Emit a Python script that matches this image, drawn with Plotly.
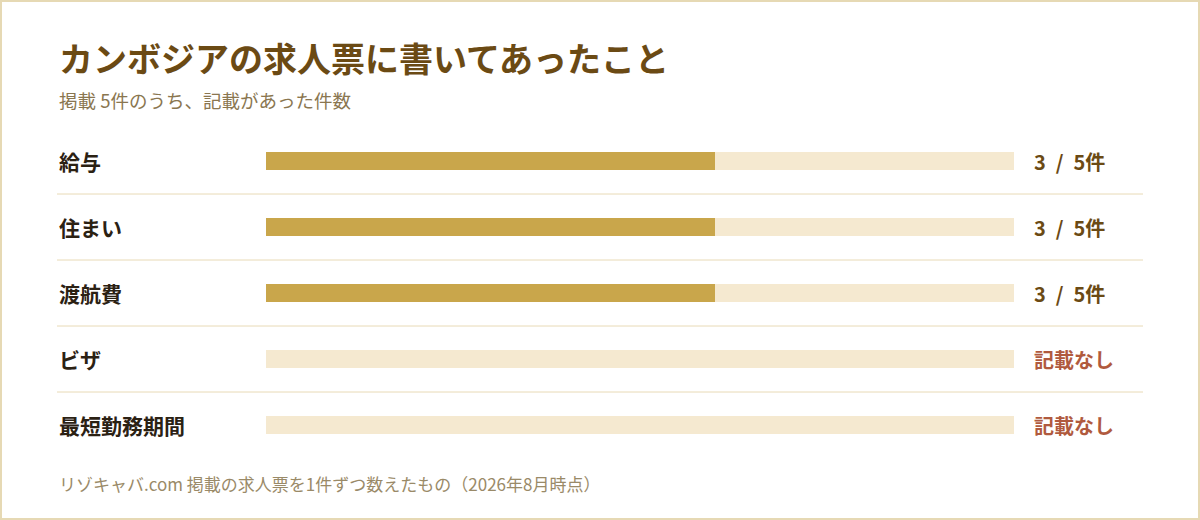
import plotly.graph_objects as go

# --- data ---
items = ['給与', '住まい', '渡航費', 'ビザ', '最短勤務期間']
counts = [3, 3, 3, 0, 0]
total = 5
title = 'カンボジアの求人票に書いてあったこと'
subtitle = '掲載 5件のうち、記載があった件数'
footer = 'リゾキャバ.com 掲載の求人票を1件ずつ数えたもの（2026年8月時点）'

# --- layout numbers (pixels) ---
W, H = 1200, 520
L, R, T, B = 266, 186, 128, 62
PW, PH = W - L - R, H - T - B

def px(x):
    return (x - L) / PW

def py(y):
    return (H - B - y) / PH

FONT = 'Noto Sans CJK JP'
GOLD = '#c9a64b'
TRACK = '#f5e9d0'
LINE = '#e8dab6'
BROWN = '#6b4a14'
RED = '#b05a3e'

fig = go.Figure()
fig.add_trace(go.Bar(
    y=items, x=[total] * len(items), orientation='h',
    marker=dict(color=TRACK, line=dict(width=0)), width=0.27,
    hoverinfo='skip', showlegend=False,
))
fig.add_trace(go.Bar(
    y=items, x=counts, orientation='h',
    marker=dict(color=GOLD, line=dict(width=0)), width=0.27,
    hovertemplate='%{y}: %{x}件<extra></extra>', showlegend=False,
))

annotations = [
    dict(text=f'<b>{title}</b>', x=px(57), y=py(57), xref='paper', yref='paper',
         xanchor='left', yanchor='middle', showarrow=False,
         font=dict(family=FONT, size=34, color=BROWN)),
    dict(text=subtitle, x=px(57), y=py(100), xref='paper', yref='paper',
         xanchor='left', yanchor='middle', showarrow=False,
         font=dict(family=FONT, size=18.5, color='#8a7650')),
    dict(text=footer, x=px(57), y=py(483), xref='paper', yref='paper',
         xanchor='left', yanchor='middle', showarrow=False,
         font=dict(family=FONT, size=17, color='#9a8a68')),
]
for name, c in zip(items, counts):
    annotations.append(dict(
        text=f'<b>{name}</b>', x=px(57), y=name, xref='paper', yref='y',
        xanchor='left', yanchor='middle', showarrow=False,
        font=dict(family=FONT, size=21, color='#2b2113')))
    label = f'{c}\u2002/\u2002{total}件' if c > 0 else '記載なし'
    annotations.append(dict(
        text=f'<b>{label}</b>', x=px(1032), y=name, xref='paper', yref='y',
        xanchor='left', yanchor='middle', showarrow=False,
        font=dict(family=FONT, size=20, color=BROWN if c > 0 else RED)))

shapes = []
for i in range(len(items) - 1):
    shapes.append(dict(type='line', xref='paper', yref='y',
                       x0=px(57), x1=px(1143), y0=i + 0.5, y1=i + 0.5,
                       line=dict(color=LINE, width=1)))
shapes.append(dict(type='rect', xref='paper', yref='paper',
                   x0=px(1), x1=px(W - 1), y0=py(1), y1=py(H - 1),
                   line=dict(color='#e6d9b4', width=2)))

fig.update_layout(
    width=W, height=H,
    margin=dict(l=L, r=R, t=T, b=B),
    paper_bgcolor='white', plot_bgcolor='white',
    barmode='overlay', bargap=0,
    xaxis=dict(range=[0, total], visible=False, fixedrange=True),
    yaxis=dict(range=[len(items) - 0.5, -0.5], visible=False, fixedrange=True),
    annotations=annotations,
    shapes=shapes,
    font=dict(family=FONT),
)

# page body has a default margin; drop it so the figure sits at 0,0
fig.write_html('out.html', config={'displayModeBar': False},
               post_script="document.body.style.margin='0';")
